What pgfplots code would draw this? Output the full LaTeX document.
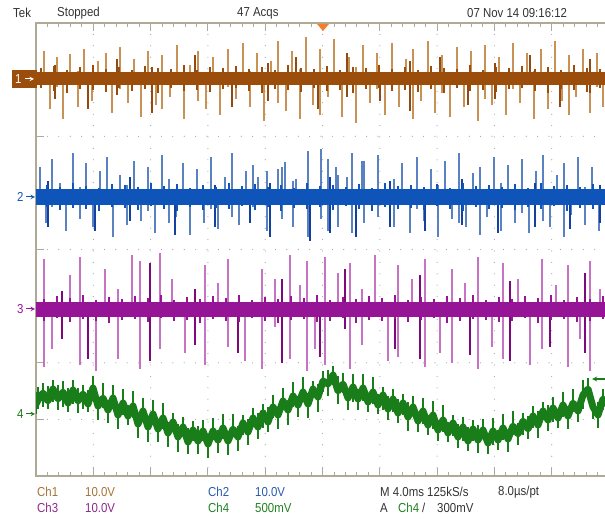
\documentclass[border=0pt]{standalone}
\usepackage{fontspec}
\setmainfont[FakeStretch=0.88]{Liberation Sans}
\usepackage{pgfplots}
\usepackage{pgfplotstable}
\pgfplotsset{compat=1.18}

\definecolor{cA}{RGB}{155,78,12}
\definecolor{cAl}{RGB}{200,145,85}
\definecolor{cAd}{RGB}{145,75,18}
\definecolor{cB}{RGB}{15,85,185}
\definecolor{cBl}{RGB}{90,130,192}
\definecolor{cBd}{RGB}{20,65,160}
\definecolor{cC}{RGB}{150,20,150}
\definecolor{cCl}{RGB}{198,115,198}
\definecolor{cCd}{RGB}{125,10,125}
\definecolor{cD}{RGB}{25,125,25}
\definecolor{grd}{RGB}{165,165,165}
\definecolor{brd}{RGB}{175,170,150}
\definecolor{txt}{RGB}{50,50,50}
\definecolor{tA}{RGB}{165,115,55}
\definecolor{tB}{RGB}{40,90,170}
\definecolor{tC}{RGB}{140,40,140}
\definecolor{tD}{RGB}{30,130,30}
\definecolor{trig}{RGB}{245,125,45}

% ---------- Ch1 ----------
\pgfplotstableread{
x y u d
44 79 28 0
50 79 0 30
57 79 22 8
63 79 0 40
70 79 25 0
78 79 8 28
84 79 30 0
92 79 0 22
98 79 18 6
106 79 26 0
112 79 0 34
120 79 32 10
128 79 0 24
134 79 20 0
141 79 6 38
148 79 28 0
156 79 0 26
162 79 24 30
170 79 0 18
177 79 34 0
184 79 0 40
190 79 14 0
198 79 28 22
206 79 0 30
213 79 22 0
220 79 0 36
228 79 30 8
236 79 0 20
243 79 36 0
250 79 8 28
257 79 26 0
264 79 0 42
271 79 18 0
278 79 38 24
286 79 0 32
292 79 28 0
300 79 10 40
306 79 42 0
313 79 0 26
320 79 30 36
328 79 0 18
334 79 40 0
342 79 0 38
349 79 22 0
356 79 12 44
363 79 34 0
370 79 0 24
377 79 26 10
385 79 0 36
392 79 36 0
399 79 0 28
406 79 20 0
413 79 30 40
421 79 0 22
428 79 38 0
435 79 0 34
442 79 24 14
450 79 0 38
457 79 32 0
464 79 6 28
471 79 28 0
478 79 0 42
485 79 34 20
492 79 0 26
499 79 22 0
506 79 0 36
513 79 36 10
520 79 0 24
527 79 26 0
534 79 8 40
541 79 30 0
548 79 0 30
555 79 38 0
562 79 0 22
569 79 24 36
576 79 0 18
583 79 30 0
590 79 0 34
597 79 26 8
603 79 0 28
}\onel
\pgfplotstableread{
x y u d
55 79 14 20
88 79 0 30
117 79 20 16
152 79 12 34
195 79 24 0
232 79 0 28
268 79 16 22
296 79 22 0
318 79 0 30
347 79 26 18
380 79 0 22
410 79 18 32
440 79 22 0
468 79 0 26
495 79 16 20
530 79 24 0
560 79 0 28
590 79 20 14
}\oned
\pgfplotstableread{
x y u d
36 79 0 0
41 79 11 9
54 79 13 12
67 79 9 14
80 79 12 10
93 79 14 11
106 79 10 13
119 79 12 9
132 79 9 12
145 79 13 10
158 79 11 14
171 79 10 9
184 79 14 12
197 79 9 11
210 79 12 13
223 79 11 10
236 79 13 9
249 79 10 12
262 79 12 14
275 79 9 10
288 79 14 11
301 79 11 13
314 79 10 9
327 79 13 12
340 79 9 11
353 79 12 14
366 79 11 10
379 79 14 9
392 79 10 12
405 79 12 11
418 79 9 13
431 79 13 10
444 79 11 14
457 79 10 9
470 79 14 12
483 79 9 11
496 79 12 13
509 79 11 10
522 79 13 9
535 79 10 12
548 79 12 14
561 79 9 10
574 79 14 11
587 79 11 13
600 79 10 9
609 79 0 0
}\onef

% ---------- Ch2 ----------
\pgfplotstableread{
x y u d
40 197 30 0
46 197 0 26
52 197 38 10
60 197 14 0
66 197 0 34
73 197 44 0
80 197 10 22
86 197 34 0
93 197 0 30
100 197 26 8
107 197 40 0
113 197 0 40
120 197 22 0
127 197 12 28
134 197 36 0
141 197 0 24
148 197 30 14
155 197 0 36
162 197 42 0
169 197 18 26
176 197 0 20
183 197 34 0
190 197 8 38
197 197 28 0
204 197 0 26
211 197 40 12
218 197 0 32
225 197 20 0
232 197 44 20
239 197 0 28
246 197 26 0
253 197 32 10
258 197 20 0
267 197 26 34
278 197 28 0
282 197 30 22
285 197 35 0
293 197 16 30
296 197 18 0
308 197 46 40
321 197 48 22
328 197 38 34
336 197 30 0
338 197 22 30
347 197 20 0
352 197 44 36
362 197 36 0
364 197 36 26
378 197 42 20
385 197 10 0
394 197 18 30
402 197 34 0
410 197 0 36
417 197 40 12
424 197 0 24
431 197 28 0
438 197 12 40
445 197 36 0
452 197 0 22
459 197 44 26
466 197 0 30
473 197 24 0
480 197 30 38
487 197 0 20
494 197 40 0
501 197 14 34
508 197 32 0
515 197 0 26
522 197 38 16
529 197 0 36
536 197 26 0
543 197 42 24
550 197 0 30
557 197 22 0
564 197 34 40
571 197 0 18
578 197 40 0
585 197 10 28
592 197 30 0
599 197 0 34
}\twol
\pgfplotstableread{
x y u d
48 197 16 30
95 197 0 34
130 197 20 24
175 197 0 38
215 197 12 30
250 197 0 26
270 197 14 40
310 197 0 44
330 197 20 36
356 197 0 40
390 197 16 30
425 197 0 34
462 197 18 28
498 197 0 36
535 197 14 30
570 197 0 32
600 197 12 26
}\twod
\pgfplotstableread{
x y u d
36 197 0 0
47 197 12 10
60 197 10 13
73 197 14 11
86 197 11 12
99 197 9 14
112 197 13 10
125 197 12 11
138 197 10 13
151 197 14 9
164 197 11 12
177 197 13 14
190 197 9 10
203 197 12 13
216 197 10 11
229 197 14 12
242 197 11 9
255 197 13 13
268 197 10 10
281 197 12 14
294 197 9 11
307 197 14 12
320 197 11 10
333 197 12 13
346 197 10 9
359 197 13 12
372 197 9 14
385 197 14 10
398 197 11 12
411 197 12 11
424 197 10 13
437 197 13 9
450 197 9 12
463 197 14 14
476 197 11 10
489 197 12 12
502 197 10 11
515 197 13 13
528 197 9 10
541 197 14 12
554 197 11 9
567 197 12 14
580 197 10 11
593 197 13 12
609 197 0 0
}\twof

% ---------- Ch3 ----------
\pgfplotstableread{
x y u d
44 309 50 58
52 309 0 40
70 309 34 0
80 309 52 56
96 309 0 62
105 309 40 0
118 309 20 50
132 309 54 0
140 309 48 60
160 309 56 40
172 309 30 0
185 309 0 44
205 309 44 56
218 309 26 0
228 309 50 38
245 309 0 52
262 309 40 60
275 309 30 18
290 309 54 50
300 309 24 0
307 309 48 62
315 309 0 40
325 309 52 56
338 309 36 0
350 309 46 60
362 309 20 36
375 309 54 0
388 309 0 52
398 309 44 48
412 309 30 0
425 309 50 58
440 309 0 44
452 309 40 54
465 309 26 0
478 309 52 60
492 309 0 38
503 309 46 50
518 309 30 0
530 309 0 56
542 309 50 40
556 309 24 0
568 309 44 58
580 309 0 30
590 309 48 62
600 309 20 0
}\threel
\pgfplotstableread{
x y u d
62 309 18 30
88 309 0 50
150 309 46 52
195 309 20 36
238 309 0 44
282 309 30 54
320 309 0 48
345 309 40 20
395 309 0 40
420 309 34 50
470 309 0 46
510 309 28 52
550 309 0 38
585 309 36 44
}\threed
\pgfplotstableread{
x y u d
36 309 0 0
44 309 10 12
57 309 13 9
70 309 11 13
83 309 14 10
96 309 9 12
109 309 12 14
122 309 10 11
135 309 13 10
148 309 11 13
161 309 14 9
174 309 9 12
187 309 12 11
200 309 10 14
213 309 13 10
226 309 11 12
239 309 14 13
252 309 9 9
265 309 12 12
278 309 10 14
291 309 13 11
304 309 11 10
317 309 14 13
330 309 9 12
343 309 12 9
356 309 10 14
369 309 13 11
382 309 11 12
395 309 14 10
408 309 9 13
421 309 12 11
434 309 10 9
447 309 13 14
460 309 11 12
473 309 14 10
486 309 9 11
499 309 12 13
512 309 10 12
525 309 13 9
538 309 11 14
551 309 14 11
564 309 9 10
577 309 12 13
590 309 10 12
603 309 13 10
609 309 0 0
}\threef

% ---------- Ch4 ----------
\pgfplotstableread{
x y u d
36 404 12 10
38 400 13 9
43 393 10 14
48 401 15 8
53 389 9 13
58 399 14 11
63 392 11 15
68 403 15 9
73 390 10 14
78 401 13 12
83 394 9 15
88 404 14 8
93 388 12 13
98 406 8 14
103 398 15 10
108 410 10 13
113 398 13 9
118 415 9 14
123 403 14 12
128 416 11 9
133 406 15 12
138 424 9 14
143 411 13 10
148 427 10 15
153 414 14 9
158 429 9 13
163 418 15 11
168 433 11 14
173 422 9 10
178 437 13 15
183 427 10 9
188 442 14 12
193 430 9 11
198 441 15 13
203 431 11 10
208 444 8 14
213 431 13 9
218 440 10 13
223 428 14 11
228 441 9 14
233 429 15 8
238 437 11 14
243 423 8 12
248 432 13 13
253 418 10 9
258 427 14 12
263 413 9 15
268 422 15 10
273 407 12 11
278 415 8 14
283 401 13 9
288 410 10 15
293 396 14 11
298 405 9 12
303 392 15 10
308 404 11 14
313 389 8 9
318 397 13 15
323 381 10 11
328 384 14 12
333 375 9 10
338 391 15 13
343 384 11 9
348 398 8 12
353 387 13 15
358 399 10 11
363 388 14 13
368 402 9 10
373 392 15 12
378 405 11 9
383 395 8 15
388 409 13 11
393 399 10 13
398 413 14 10
403 403 9 12
408 417 15 14
413 407 11 9
418 421 8 11
423 411 13 13
428 425 10 10
433 415 14 14
438 430 9 11
443 420 15 12
448 433 11 9
453 423 8 13
458 437 13 11
463 427 10 14
468 441 14 10
473 429 9 12
478 440 15 13
483 430 11 9
488 443 8 11
493 431 13 14
498 440 10 10
503 428 14 12
508 439 9 13
513 426 15 9
518 434 11 11
523 421 8 14
528 429 13 10
533 416 10 12
538 425 14 13
543 411 9 9
548 420 15 11
553 408 11 14
558 418 8 10
563 405 13 12
568 416 10 13
573 403 14 9
578 411 9 11
583 395 15 14
588 389 11 10
593 407 8 12
598 415 13 13
603 399 10 11
609 406 10 11
}\four

\begin{document}
\begin{tikzpicture}[x=1pt,y=1pt,font=\fontsize{13}{15}\selectfont]
\useasboundingbox (0,0) rectangle (605,519);
\begin{axis}[
  at={(36pt,43pt)}, anchor=south west,
  width=573pt, height=453pt, scale only axis,
  xmin=36, xmax=609, ymin=23, ymax=476, y dir=reverse,
  xtick={36,93.3,150.6,207.9,265.2,322.5,379.8,437.1,494.4,551.7,609},
  ytick={23,79.6,136.3,192.9,249.5,306.1,362.8,419.4,476},
  minor x tick num=4, minor y tick num=4,
  xticklabels={}, yticklabels={},
  xtick pos=both, ytick pos=left, tick align=inside,
  major tick length=8pt, minor tick length=4pt,
  tick style={brd, line width=0.9pt},
  axis line style={brd, line width=1.3pt},
  xmajorgrids, ymajorgrids,
  major grid style={grd, line width=1.2pt, dash pattern=on 0pt off 11.4pt, line cap=round},
  every axis plot/.append style={mark=none},
]
% Ch1
\addplot[draw=none, mark=none, error bars/.cd, y dir=both, y explicit, error mark=none,
  error bar style={draw=cAl, line width=1.5pt}] table[x=x,y=y,y error plus=d,y error minus=u] {\onel};
\addplot[draw=none, mark=none, error bars/.cd, y dir=both, y explicit, error mark=none,
  error bar style={draw=cAd, line width=1.7pt}] table[x=x,y=y,y error plus=d,y error minus=u] {\oned};
\addplot[draw=cA, mark=none, line width=13pt, error bars/.cd, y dir=both, y explicit, error mark=none,
  error bar style={draw=cA, line width=1.5pt}] table[x=x,y=y,y error plus=d,y error minus=u] {\onef};
% Ch2
\addplot[draw=none, mark=none, error bars/.cd, y dir=both, y explicit, error mark=none,
  error bar style={draw=cBl, line width=1.5pt}] table[x=x,y=y,y error plus=d,y error minus=u] {\twol};
\addplot[draw=none, mark=none, error bars/.cd, y dir=both, y explicit, error mark=none,
  error bar style={draw=cBd, line width=1.7pt}] table[x=x,y=y,y error plus=d,y error minus=u] {\twod};
\addplot[draw=cB, mark=none, line width=15pt, error bars/.cd, y dir=both, y explicit, error mark=none,
  error bar style={draw=cB, line width=1.5pt}] table[x=x,y=y,y error plus=d,y error minus=u] {\twof};
% Ch3
\addplot[draw=none, mark=none, error bars/.cd, y dir=both, y explicit, error mark=none,
  error bar style={draw=cCl, line width=1.5pt}] table[x=x,y=y,y error plus=d,y error minus=u] {\threel};
\addplot[draw=none, mark=none, error bars/.cd, y dir=both, y explicit, error mark=none,
  error bar style={draw=cCd, line width=1.7pt}] table[x=x,y=y,y error plus=d,y error minus=u] {\threed};
\addplot[draw=cC, mark=none, line width=15pt, error bars/.cd, y dir=both, y explicit, error mark=none,
  error bar style={draw=cC, line width=1.5pt}] table[x=x,y=y,y error plus=d,y error minus=u] {\threef};
% Ch4
\addplot[draw=cD, mark=none, line width=7pt, line join=round, error bars/.cd, y dir=both, y explicit, error mark=none,
  error bar style={draw=cD, line width=1.8pt}] table[x=x,y=y,y error plus=d,y error minus=u] {\four};
\end{axis}
% channel markers
\fill[cA] (12,431) rectangle (37,449);
\node[white, inner sep=0, anchor=west] at (15,440) {1};
\draw[white, line width=1pt, -stealth] (25,440) -- (34,440);
\node[cB, inner sep=0, anchor=west] at (17,322) {2};
\draw[cB, line width=1pt, -stealth] (26,322) -- (35,322);
\node[cC, inner sep=0, anchor=west] at (17,210) {3};
\draw[cC, line width=1pt, -stealth] (26,210) -- (35,210);
\node[cD, inner sep=0, anchor=west] at (17,105) {4};
\draw[cD, line width=1pt, -stealth] (26,105) -- (35,105);
% trigger level and position
\draw[cD, line width=1.3pt, -stealth] (605,140) -- (592,140);
\fill[trig] (317,495) -- (329,495) -- (323,488) -- cycle;
% header
\node[txt, inner sep=0, anchor=west] at (13,506) {Tek};
\node[txt, inner sep=0, anchor=west] at (57,506) {Stopped};
\node[txt, inner sep=0, anchor=west] at (237,506) {47 Acqs};
\node[txt, inner sep=0, anchor=west] at (467,506) {07 Nov 14 09:16:12};
% footer
\node[tA, inner sep=0, anchor=west] at (37,27) {Ch1};
\node[tA, inner sep=0, anchor=west] at (85,27) {10.0V};
\node[tB, inner sep=0, anchor=west] at (208,27) {Ch2};
\node[tB, inner sep=0, anchor=west] at (255,27) {10.0V};
\node[txt, inner sep=0, anchor=west] at (380,27) {M 4.0ms 125kS/s};
\node[txt, inner sep=0, anchor=west] at (498,27) {8.0µs/pt};
\node[tC, inner sep=0, anchor=west] at (37,11) {Ch3};
\node[tC, inner sep=0, anchor=west] at (85,11) {10.0V};
\node[tD, inner sep=0, anchor=west] at (208,11) {Ch4};
\node[tD, inner sep=0, anchor=west] at (255,11) {500mV};
\node[txt, inner sep=0, anchor=west] at (380,11) {A};
\node[tD, inner sep=0, anchor=west] at (398,11) {Ch4};
\node[txt, inner sep=0, anchor=west] at (422,11) {/};
\node[txt, inner sep=0, anchor=west] at (437,11) {300mV};
\end{tikzpicture}
\end{document}
